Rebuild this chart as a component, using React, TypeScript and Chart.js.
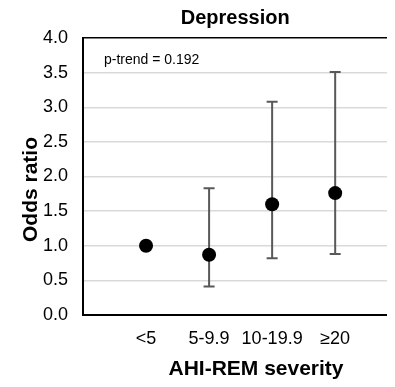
import React, { useEffect, useRef } from "react";
import { Chart, registerables } from "chart.js";

Chart.register(...registerables);

const TITLE = "Depression";
const X_TITLE = "AHI-REM severity";
const Y_TITLE = "Odds ratio";
const NOTE = "p-trend = 0.192";
const CATEGORIES = ["<5", "5-9.9", "10-19.9", "\u226520"];
const ODDS = [1.0, 0.87, 1.6, 1.76];
const LOWER: (number | null)[] = [null, 0.41, 0.82, 0.88];
const UPPER: (number | null)[] = [null, 1.83, 3.08, 3.51];
const Y_MIN = 0;
const Y_MAX = 4;
const Y_STEP = 0.5;

const FONT = "'Liberation Sans', Arial, sans-serif";

const textPlugin = {
  id: "extraText",
  afterDraw(chart: any) {
    const { ctx, chartArea } = chart;
    ctx.save();
    ctx.fillStyle = "#000";
    // note
    ctx.font = `14px ${FONT}`;
    ctx.textAlign = "left";
    ctx.textBaseline = "alphabetic";
    ctx.fillText(NOTE, chartArea.left + 21, chartArea.top + 26);
    // x title
    ctx.font = `bold 21px ${FONT}`;
    ctx.textAlign = "center";
    ctx.fillText(X_TITLE, chartArea.left + 173, chartArea.bottom + 60);
    // y title
    ctx.translate(28.5, (chartArea.top + chartArea.bottom) / 2 + 13);
    ctx.rotate(-Math.PI / 2);
    ctx.fillText(Y_TITLE, 0, 0);
    ctx.restore();
  },
};

export default function App() {
  const ref = useRef<HTMLCanvasElement | null>(null);
  useEffect(() => {
    if (!ref.current) return;
    const errorSets = CATEGORIES.map((c, i) => {
      const lo = LOWER[i];
      const hi = UPPER[i];
      if (lo == null || hi == null) return null;
      return {
        label: `CI ${c}`,
        data: [
          { x: i + 1, y: lo },
          { x: i + 1, y: hi },
        ],
        showLine: true,
        borderColor: "#595959",
        borderWidth: 2,
        pointStyle: "line",
        pointRadius: 5.5,
        pointBorderColor: "#595959",
        pointBorderWidth: 2,
        order: 2,
      };
    }).filter(Boolean) as any[];

    const chart = new Chart(ref.current, {
      type: "scatter",
      data: {
        datasets: [
          {
            label: "Odds ratio",
            data: ODDS.map((v, i) => ({ x: i + 1, y: v })),
            pointRadius: 7,
            pointBackgroundColor: "#000",
            pointBorderColor: "#000",
            pointBorderWidth: 0,
            order: 1,
          },
          ...errorSets,
        ],
      },
      options: {
        animation: false,
        responsive: true,
        maintainAspectRatio: false,
        layout: { padding: 0 },
        plugins: {
          legend: { display: false },
          tooltip: { enabled: false },
          title: {
            display: true,
            text: TITLE,
            fullSize: false,
            color: "#000",
            font: { family: FONT, size: 20, weight: "bold", lineHeight: 1 },
            padding: { top: 0, bottom: 10 },
          },
        },
        scales: {
          x: {
            type: "linear",
            min: 0,
            max: 4.83,
            afterBuildTicks: (s: any) => {
              s.ticks = CATEGORIES.map((_, i) => ({ value: i + 1 }));
            },
            afterFit: (s: any) => {
              s.height = 72;
            },
            grid: { display: false, drawTicks: false },
            border: { display: true, color: "#000", width: 2 },
            ticks: {
              color: "#000",
              padding: 13,
              maxRotation: 0,
              autoSkip: false,
              font: { family: FONT, size: 18 },
              callback: (v: any) => CATEGORIES[Math.round(v) - 1] ?? "",
            },
          },
          y: {
            type: "linear",
            min: Y_MIN,
            max: Y_MAX,
            afterFit: (s: any) => {
              s.width = 75;
            },
            grid: {
              drawTicks: false,
              lineWidth: 1.5,
              color: (c: any) => (c.tick && c.tick.value === Y_MAX ? "#000" : "#d9d9d9"),
            },
            border: { display: true, color: "#000", width: 2 },
            ticks: {
              stepSize: Y_STEP,
              color: "#000",
              padding: 15,
              font: { family: FONT, size: 18 },
              callback: (v: any) => Number(v).toFixed(1),
            },
          },
        },
      },
      plugins: [textPlugin],
    });
    return () => chart.destroy();
  }, []);

  return (
    <div style={{ width: 387, height: 379 }}>
      <canvas ref={ref} />
    </div>
  );
}
